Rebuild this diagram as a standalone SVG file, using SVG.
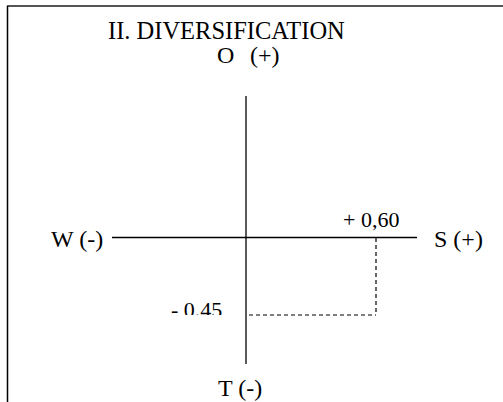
<svg xmlns="http://www.w3.org/2000/svg" width="503" height="402" viewBox="0 0 503 402">
<style>
.t{font-family:"Liberation Serif","Times New Roman",serif;fill:#000;}
.lbl{font-size:24px;}
.val{font-size:22px;}
.ttl{font-size:24.5px;}
.ax{stroke:#000;stroke-width:1.3;fill:none;}
.ds{stroke:#000;stroke-width:1.2;fill:none;stroke-dasharray:4,3;}
</style>
<defs>
<clipPath id="clipNeg"><rect x="160" y="290" width="80" height="25"/></clipPath>
</defs>
<rect width="503" height="402" fill="#fff"/>
<g id="frame">
<line x1="7" y1="6" x2="503" y2="6" stroke="#555" stroke-width="2"/>
<line x1="7.5" y1="6" x2="7.5" y2="402" stroke="#000" stroke-width="1.5"/>
</g>
<g id="connectors">
<line class="ax" x1="246" y1="96" x2="246" y2="364"/>
<line class="ax" x1="112" y1="237.5" x2="417" y2="237.5"/>
<line class="ds" x1="376" y1="238" x2="376" y2="315"/>
<line class="ds" x1="249" y1="315" x2="376" y2="315"/>
</g>
<g id="title"><text class="t ttl" x="108" y="39">II. DIVERSIFICATION</text></g>
<g id="node-O"><text class="t lbl" x="217" y="63">O<tspan x="250">(+)</tspan></text></g>
<g id="node-W"><text class="t lbl" x="51" y="247">W (-)</text></g>
<g id="node-S"><text class="t lbl" x="434" y="247">S (+)</text></g>
<g id="node-T"><text class="t lbl" x="218" y="396">T (-)</text></g>
<g id="value-S"><text class="t val" x="343" y="227">+ 0,60</text></g>
<g id="value-T"><text class="t val" x="171" y="316.5" clip-path="url(#clipNeg)">- 0.45</text></g>
</svg>
